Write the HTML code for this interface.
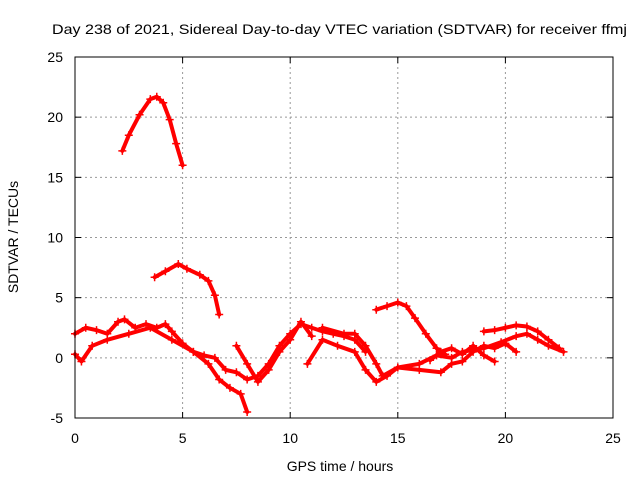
<!DOCTYPE html>
<html><head><meta charset="utf-8"><style>
body{margin:0;background:#fff}
svg{display:block;font-family:"Liberation Sans",sans-serif}
</style></head><body>
<svg id="chart" width="640" height="480" viewBox="0 0 640 480" xmlns="http://www.w3.org/2000/svg">
<rect width="640" height="480" fill="#fff"/>
<text x="339.5" y="34" font-size="14" text-anchor="middle" textLength="575" lengthAdjust="spacingAndGlyphs">Day 238 of 2021, Sidereal Day-to-day VTEC variation (SDTVAR) for receiver ffmj</text>
<text x="340" y="471" font-size="14" text-anchor="middle">GPS time / hours</text>
<text x="18" y="237" font-size="14" text-anchor="middle" transform="rotate(-90 18 237)">SDTVAR / TECUs</text>
<g id="grid"></g><g id="ticks"></g><g id="series"></g>
<rect x="75" y="57" width="538" height="361" fill="none" stroke="#000" stroke-width="1"/>
</svg>
<script>
const xTicks=[0,5,10,15,20,25];
const yTicks=[-5,0,5,10,15,20,25];
const arcT=[2.2,2.5,3.0,3.5,3.8,4.1,4.4,4.7,5.0];
const arcV=[17.2,18.5,20.2,21.5,21.7,21.2,19.8,17.8,16.0];
const midT=[3.7,4.2,4.8,5.2,5.8,6.2,6.5,6.7];
const midV=[6.7,7.2,7.8,7.4,6.9,6.4,5.2,3.6];
const humpT=[14.0,14.5,15.0,15.4,15.8,16.3,16.8,17.2];
const humpV=[4.0,4.3,4.6,4.3,3.3,2.0,0.8,0.3];
const l1T=[0,0.5,1.0,1.5,2.0,2.3,2.8,3.3,3.8,4.2,4.5,5.0,5.5,6.0,6.5,7.0,7.5,8.0,8.5,9.0,9.5,10.0,10.5,11.0,11.5,12.0,12.5,13.0,13.5];
const l1V=[2.0,2.5,2.3,2.0,3.0,3.2,2.5,2.8,2.5,2.8,2.2,1.2,0.5,0.2,0.0,-1.0,-1.2,-1.8,-1.5,-0.5,1.0,2.0,2.8,2.5,2.2,2.0,1.8,1.5,0.5];
const l2T=[0,0.3,0.8,1.5,2.5,3.5,4.5,5.5,6.2,6.7,7.2,7.7,8.0];
const l2V=[0.3,-0.3,1.0,1.5,2.0,2.5,1.5,0.5,-0.5,-1.8,-2.5,-3.0,-4.5];
const l3T=[7.5,8.0,8.5,9.0,9.5,10.0,10.5,11.0];
const l3V=[1.0,-0.5,-2.0,-1.0,0.5,1.5,3.0,1.8];
const l4T=[10.8,11.5,12.2,13.0,13.5,14.0,14.5,15.0,16.0,17.0,17.5,18.0,18.5,19.0,19.5,20.0,20.5];
const l4V=[-0.5,1.5,1.0,0.5,-1.0,-2.0,-1.5,-0.8,-1.0,-1.2,-0.5,-0.3,0.5,1.0,0.8,1.2,0.5];
const l5T=[11.5,12.5,13.0,13.5,14.0,14.3,15.0,16.0,16.8,17.5,18.0,19.0,19.8,20.5,21.0,21.5,22.0,22.7];
const l5V=[2.5,2.0,2.0,1.0,-0.5,-1.5,-0.8,-0.5,0.2,0.0,0.5,0.8,1.3,1.8,2.0,1.5,1.0,0.5];
const l6T=[19.0,19.5,20.0,20.5,21.0,21.5,22.0,22.5];
const l6V=[2.2,2.3,2.5,2.7,2.6,2.2,1.5,0.8];
const l7T=[16.5,17.0,17.5,18.0,18.5,19.0,19.5];
const l7V=[-0.2,0.5,0.8,0.3,1.0,0.2,-0.3];
const seriesList=[[arcT,arcV],[midT,midV],[humpT,humpV],[l1T,l1V],[l2T,l2V],[l3T,l3V],[l4T,l4V],[l5T,l5V],[l6T,l6V],[l7T,l7V]];
const X=t=>75+t*538/25, Y=v=>418-(v+5)*361/30;
const NS="http://www.w3.org/2000/svg";
function mk(tag,attrs,parent){const e=document.createElementNS(NS,tag);for(const k in attrs)e.setAttribute(k,attrs[k]);parent.appendChild(e);return e;}
const grid=document.getElementById('grid'),ticks=document.getElementById('ticks'),ser=document.getElementById('series');
xTicks.forEach(t=>{
 if(t>0&&t<25){const g=mk('line',{x1:X(t),x2:X(t),y1:57,y2:418,stroke:'#999','stroke-dasharray':'2,3'},grid);
 
 }
 const lb=mk('text',{x:X(t),y:443,'font-size':14,'text-anchor':'middle'},ticks);lb.textContent=t;
 
 
 mk('line',{x1:X(t),x2:X(t),y1:418,y2:412,stroke:'#000'},ticks);
 mk('line',{x1:X(t),x2:X(t),y1:57,y2:63,stroke:'#000'},ticks);
});
yTicks.forEach(v=>{
 if(v>-5&&v<25){const g=mk('line',{x1:75,x2:613,y1:Y(v),y2:Y(v),stroke:'#999','stroke-dasharray':'2,3'},grid);
 
 }
 const lb=mk('text',{x:63,y:Y(v)+5,'font-size':14,'text-anchor':'end'},ticks);lb.textContent=v;
 
 
 mk('line',{x1:75,x2:81,y1:Y(v),y2:Y(v),stroke:'#000'},ticks);
 mk('line',{x1:613,x2:607,y1:Y(v),y2:Y(v),stroke:'#000'},ticks);
});
seriesList.forEach(([T,V])=>{
 const pts=T.map((t,i)=>X(t)+','+Y(V[i])).join(' ');
 const p=mk('polyline',{points:pts,fill:'none',stroke:'#f00','stroke-width':4,'stroke-linejoin':'round','stroke-linecap':'round'},ser);
 
 
 T.forEach((t,i)=>{const x=X(t),y=Y(V[i]);
  const m=mk('path',{d:`M${x-4},${y}H${x+4}M${x},${y-4}V${y+4}`,stroke:'#f00','stroke-width':1.5},ser);
  
  });
});
</script>
</body></html>
